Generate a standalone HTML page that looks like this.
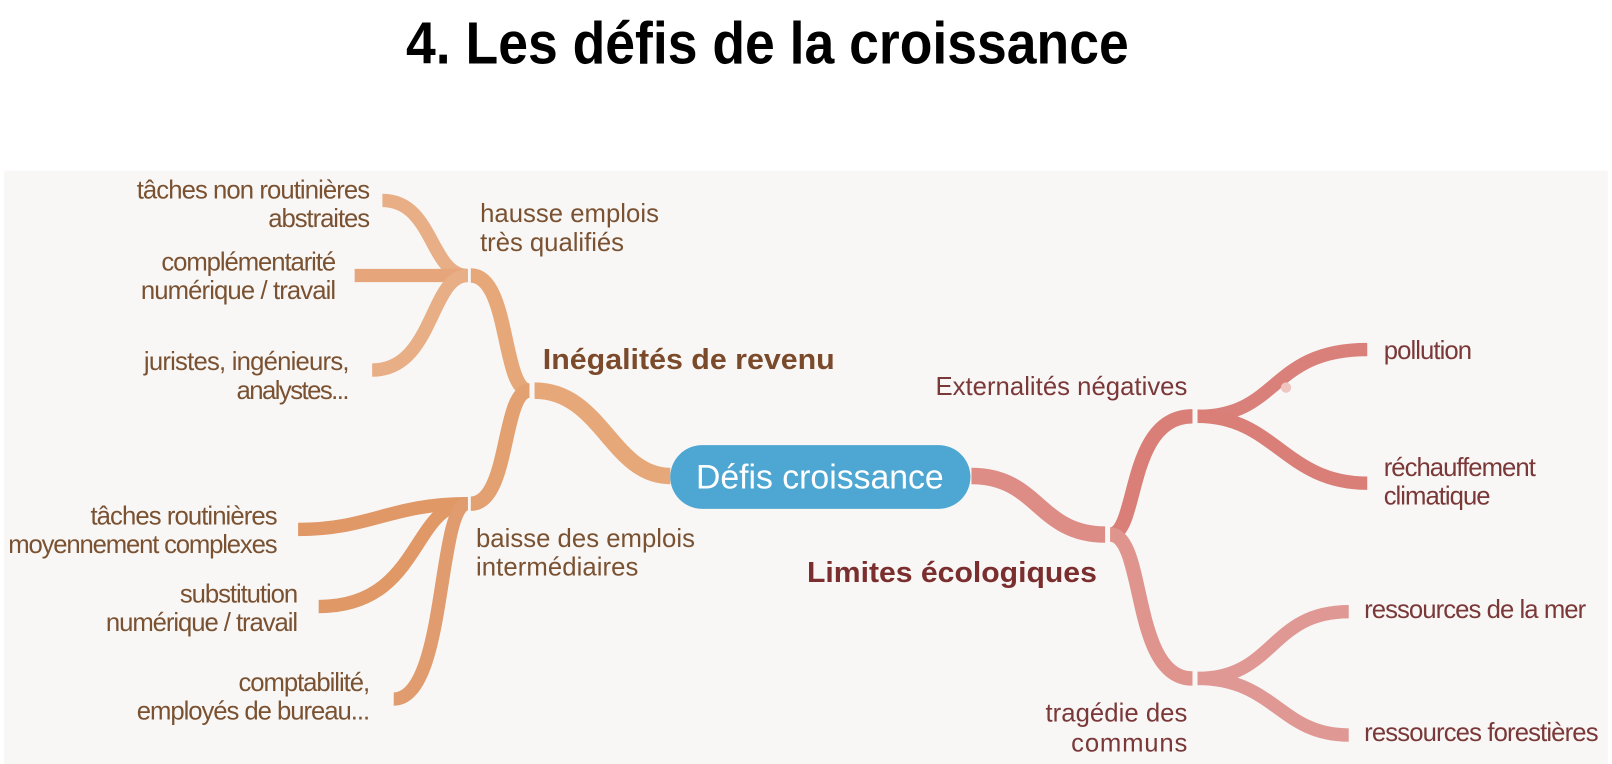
<!DOCTYPE html>
<html><head><meta charset="utf-8"><style>
body{margin:0;background:#fff;}
svg{display:block;}
text{font-family:"Liberation Sans",sans-serif;}
</style></head><body>
<svg width="1612" height="764" viewBox="0 0 1612 764" xmlns="http://www.w3.org/2000/svg">
<rect x="0" y="0" width="1612" height="764" fill="#fff"/>
<g transform="scale(1.028)">
<rect x="4" y="166" width="1560" height="600" fill="#f8f7f6"/>
<text x="395" y="62" font-size="58" font-weight="bold" fill="#000" textLength="703" lengthAdjust="spacingAndGlyphs">4.  Les défis de la croissance</text>

<g fill="none" stroke-linecap="butt">
<path d="M652,463 C595,463 585,380 520,380" stroke="#e6a879" stroke-width="16"/>
<path d="M515,380 C488,380 496,268 458,268" stroke="#e6a879" stroke-width="14"/>
<path d="M515,380 C488,380 496,490 458,490" stroke="#e3a070" stroke-width="14"/>
<path d="M455,268 C418,268 422,195 372,195" stroke="#e8ae86" stroke-width="13"/>
<path d="M455,268 L345,268" stroke="#e6a57a" stroke-width="13"/>
<path d="M455,268 C418,268 422,360 362,360" stroke="#e8ae86" stroke-width="13"/>
<path d="M455,490 C380,490 360,515 290,515" stroke="#e09866" stroke-width="13"/>
<path d="M455,490 C400,490 410,590 310,590" stroke="#e09866" stroke-width="13"/>
<path d="M455,490 C425,490 435,680 383,680" stroke="#e09c6e" stroke-width="13"/>
<path d="M945,463 C1010,463 1010,520 1075,520" stroke="#de8c86" stroke-width="16"/>
<path d="M1080,520 C1108,520 1095,405 1160,405" stroke="#d97f78" stroke-width="14"/>
<path d="M1080,520 C1115,520 1100,660 1160,660" stroke="#df948e" stroke-width="14"/>
<path d="M1165,405 C1245,405 1235,340 1330,340" stroke="#da807a" stroke-width="13"/>
<path d="M1165,405 C1240,405 1250,470 1330,470" stroke="#d97f78" stroke-width="13"/>
<path d="M1165,660 C1240,660 1235,595 1312,595" stroke="#e09894" stroke-width="13"/>
<path d="M1165,660 C1240,660 1245,715 1312,715" stroke="#e09894" stroke-width="13"/>
</g>
<circle cx="1251" cy="377" r="5" fill="#f0c4c0"/>

<rect x="652" y="433" width="292" height="62" rx="31" fill="#4ea7d2"/>
<text x="677" y="475" font-size="33" fill="#fff" textLength="241" lengthAdjust="spacingAndGlyphs">Défis croissance</text>

<g font-size="25" fill="#7a5232" lengthAdjust="spacingAndGlyphs">
<text x="133" y="193" textLength="227">tâches non routinières</text>
<text x="261" y="221" textLength="99">abstraites</text>
<text x="157" y="263" textLength="170">complémentarité</text>
<text x="137" y="291" textLength="190">numérique / travail</text>
<text x="140" y="360" textLength="200">juristes, ingénieurs,</text>
<text x="230" y="388" textLength="110">analystes...</text>
<text x="88" y="510" textLength="182">tâches routinières</text>
<text x="8" y="538" textLength="262">moyennement complexes</text>
<text x="175" y="586" textLength="115">substitution</text>
<text x="103" y="614" textLength="187">numérique / travail</text>
<text x="232" y="672" textLength="128">comptabilité,</text>
<text x="133" y="700" textLength="227">employés de bureau...</text>
<text x="467" y="216" textLength="174">hausse emplois</text>
<text x="467" y="244" textLength="140">très qualifiés</text>
<text x="463" y="532" textLength="213">baisse des emplois</text>
<text x="463" y="560" textLength="158">intermédiaires</text>
</g>
<text x="528" y="359" font-size="28" font-weight="bold" fill="#7b4a2a" textLength="284" lengthAdjust="spacingAndGlyphs">Inégalités de revenu</text>
<text x="785" y="566" font-size="28" font-weight="bold" fill="#7a2e2e" textLength="282" lengthAdjust="spacingAndGlyphs">Limites écologiques</text>
<g font-size="25" fill="#7a3838" lengthAdjust="spacingAndGlyphs">
<text x="910" y="384" textLength="245">Externalités négatives</text>
<text x="1346" y="349" textLength="86">pollution</text>
<text x="1346" y="463" textLength="148">réchauffement</text>
<text x="1346" y="491" textLength="104">climatique</text>
<text x="1327" y="601" textLength="216">ressources de la mer</text>
<text x="1327" y="721" textLength="228">ressources forestières</text>
<text x="1017" y="702" textLength="138">tragédie des</text>
<text x="1042" y="731" textLength="113">communs</text>
</g>
</g>
</svg>
</body></html>
